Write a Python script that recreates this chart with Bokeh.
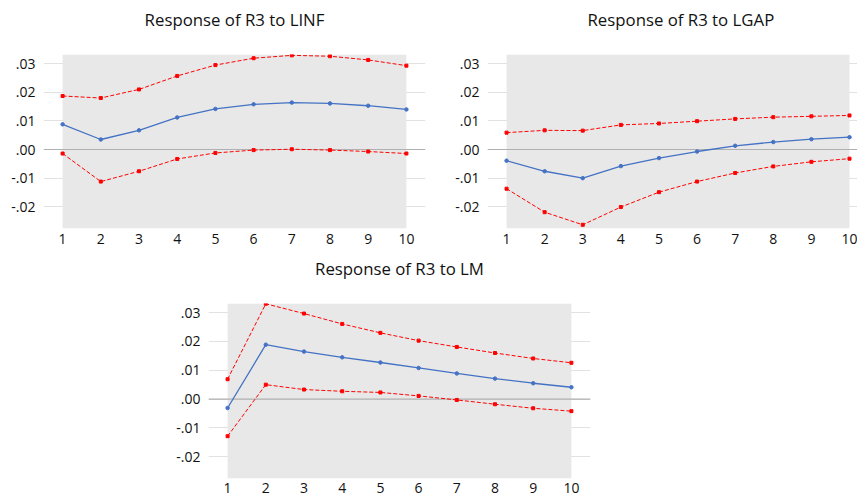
from bokeh.plotting import figure
from bokeh.models import BoxAnnotation, Span, FixedTicker, CustomJSTickFormatter, Range1d, Spacer, Title
from bokeh.layouts import column, row
from bokeh.embed import file_html
from bokeh.resources import INLINE

periods = [1, 2, 3, 4, 5, 6, 7, 8, 9, 10]
y_ticks = [-0.02, -0.01, 0.0, 0.01, 0.02, 0.03]

linf_resp = [0.0088, 0.0035, 0.0067, 0.0112, 0.0142, 0.0158, 0.0164, 0.0161, 0.0153, 0.0140]
linf_upper = [0.0187, 0.0180, 0.0210, 0.0257, 0.0295, 0.0319, 0.0329, 0.0326, 0.0313, 0.0293]
linf_lower = [-0.0014, -0.0112, -0.0076, -0.0033, -0.0012, -0.0002, 0.0001, -0.0002, -0.0007, -0.0014]

lgap_resp = [-0.0039, -0.0076, -0.0100, -0.0058, -0.0030, -0.0007, 0.0013, 0.0026, 0.0036, 0.0043]
lgap_upper = [0.0059, 0.0067, 0.0066, 0.0086, 0.0091, 0.0099, 0.0107, 0.0113, 0.0116, 0.0119]
lgap_lower = [-0.0137, -0.0219, -0.0263, -0.0201, -0.0149, -0.0112, -0.0082, -0.0059, -0.0043, -0.0032]

lm_resp = [-0.0031, 0.0189, 0.0165, 0.0145, 0.0127, 0.0108, 0.0089, 0.0071, 0.0055, 0.0041]
lm_upper = [0.0069, 0.0331, 0.0297, 0.0261, 0.0230, 0.0203, 0.0181, 0.0160, 0.0141, 0.0126]
lm_lower = [-0.0129, 0.0050, 0.0033, 0.0027, 0.0023, 0.0011, -0.0003, -0.0018, -0.0032, -0.0042]

FONT = "Open Sans"
BLUE = "#4472C4"
RED = "#FF0000"


def make_panel(title, resp, upper, lower, width, height, bl, br, bt, bb, xend, talign, toff, xstand):
    p = figure(width=width, height=height, x_range=Range1d(0.5, xend),
               y_range=Range1d(-0.0276, 0.0332), output_backend="svg",
               toolbar_location=None, min_border_left=bl, min_border_right=br,
               min_border_top=bt, min_border_bottom=bb)
    p.outline_line_color = None
    p.background_fill_color = "white"
    p.border_fill_color = "white"
    # invisible spacer between the frame and the title, then the title itself
    p.add_layout(Title(text=" ", text_font_size="1px", standoff=19), "above")
    p.add_layout(Title(text=title, align=talign, vertical_align="top", offset=toff,
                       standoff=0, text_font=FONT, text_font_size="16.8px",
                       text_font_style="normal", text_color="#111111"), "above")

    p.xgrid.visible = False
    p.ygrid.grid_line_color = "#e2e2e2"
    p.ygrid.level = "image"
    p.yaxis.ticker = FixedTicker(ticks=y_ticks)
    p.xaxis.ticker = FixedTicker(ticks=periods)
    p.yaxis.formatter = CustomJSTickFormatter(
        code="return tick.toFixed(2).replace(/^(-?)0\\./, '$1.');")
    for ax in (p.xaxis, p.yaxis):
        ax.axis_line_color = None
        ax.major_tick_line_color = None
        ax.minor_tick_line_color = None
        ax.major_tick_out = 0
        ax.major_tick_in = 0
        ax.major_label_text_font = FONT
        ax.major_label_text_font_size = "14px"
        ax.major_label_text_color = "#111111"
    p.xaxis.major_label_standoff = xstand
    p.yaxis.major_label_standoff = 8

    p.add_layout(BoxAnnotation(left=1, right=10, fill_color="#e8e8e8", fill_alpha=1.0,
                               line_color=None, level="underlay"))
    p.add_layout(Span(location=0, dimension="width", line_color="#b0b0b0",
                      line_width=1.2, level="underlay"))

    p.line(periods, upper, line_color=RED, line_width=1, line_dash="4 2")
    p.scatter(periods, upper, marker="square", size=3, fill_color=RED, line_color=RED)
    p.line(periods, lower, line_color=RED, line_width=1, line_dash="4 2")
    p.scatter(periods, lower, marker="square", size=3, fill_color=RED, line_color=RED)
    p.line(periods, resp, line_color=BLUE, line_width=1.3)
    p.scatter(periods, resp, marker="circle", size=3.5, fill_color=BLUE, line_color=BLUE)
    return p


p1 = make_panel("Response of R3 to LINF", linf_resp, linf_upper, linf_lower,
                445, 255, 43, 20, 52, 27, 10.5, "center", 0, 5)
p2 = make_panel("Response of R3 to LGAP", lgap_resp, lgap_upper, lgap_lower,
                412, 255, 42, 0, 54, 25, 10.21, "left", 100, 5)
p3 = make_panel("Response of R3 to LM", lm_resp, lm_upper, lm_lower,
                432, 240, 40, 10, 48, 17, 10.5, "center", 0, 4)

layout = column(row(p1, p2), row(Spacer(width=168, height=240), p3))

open("out.html", "w").write(file_html(layout, INLINE))
